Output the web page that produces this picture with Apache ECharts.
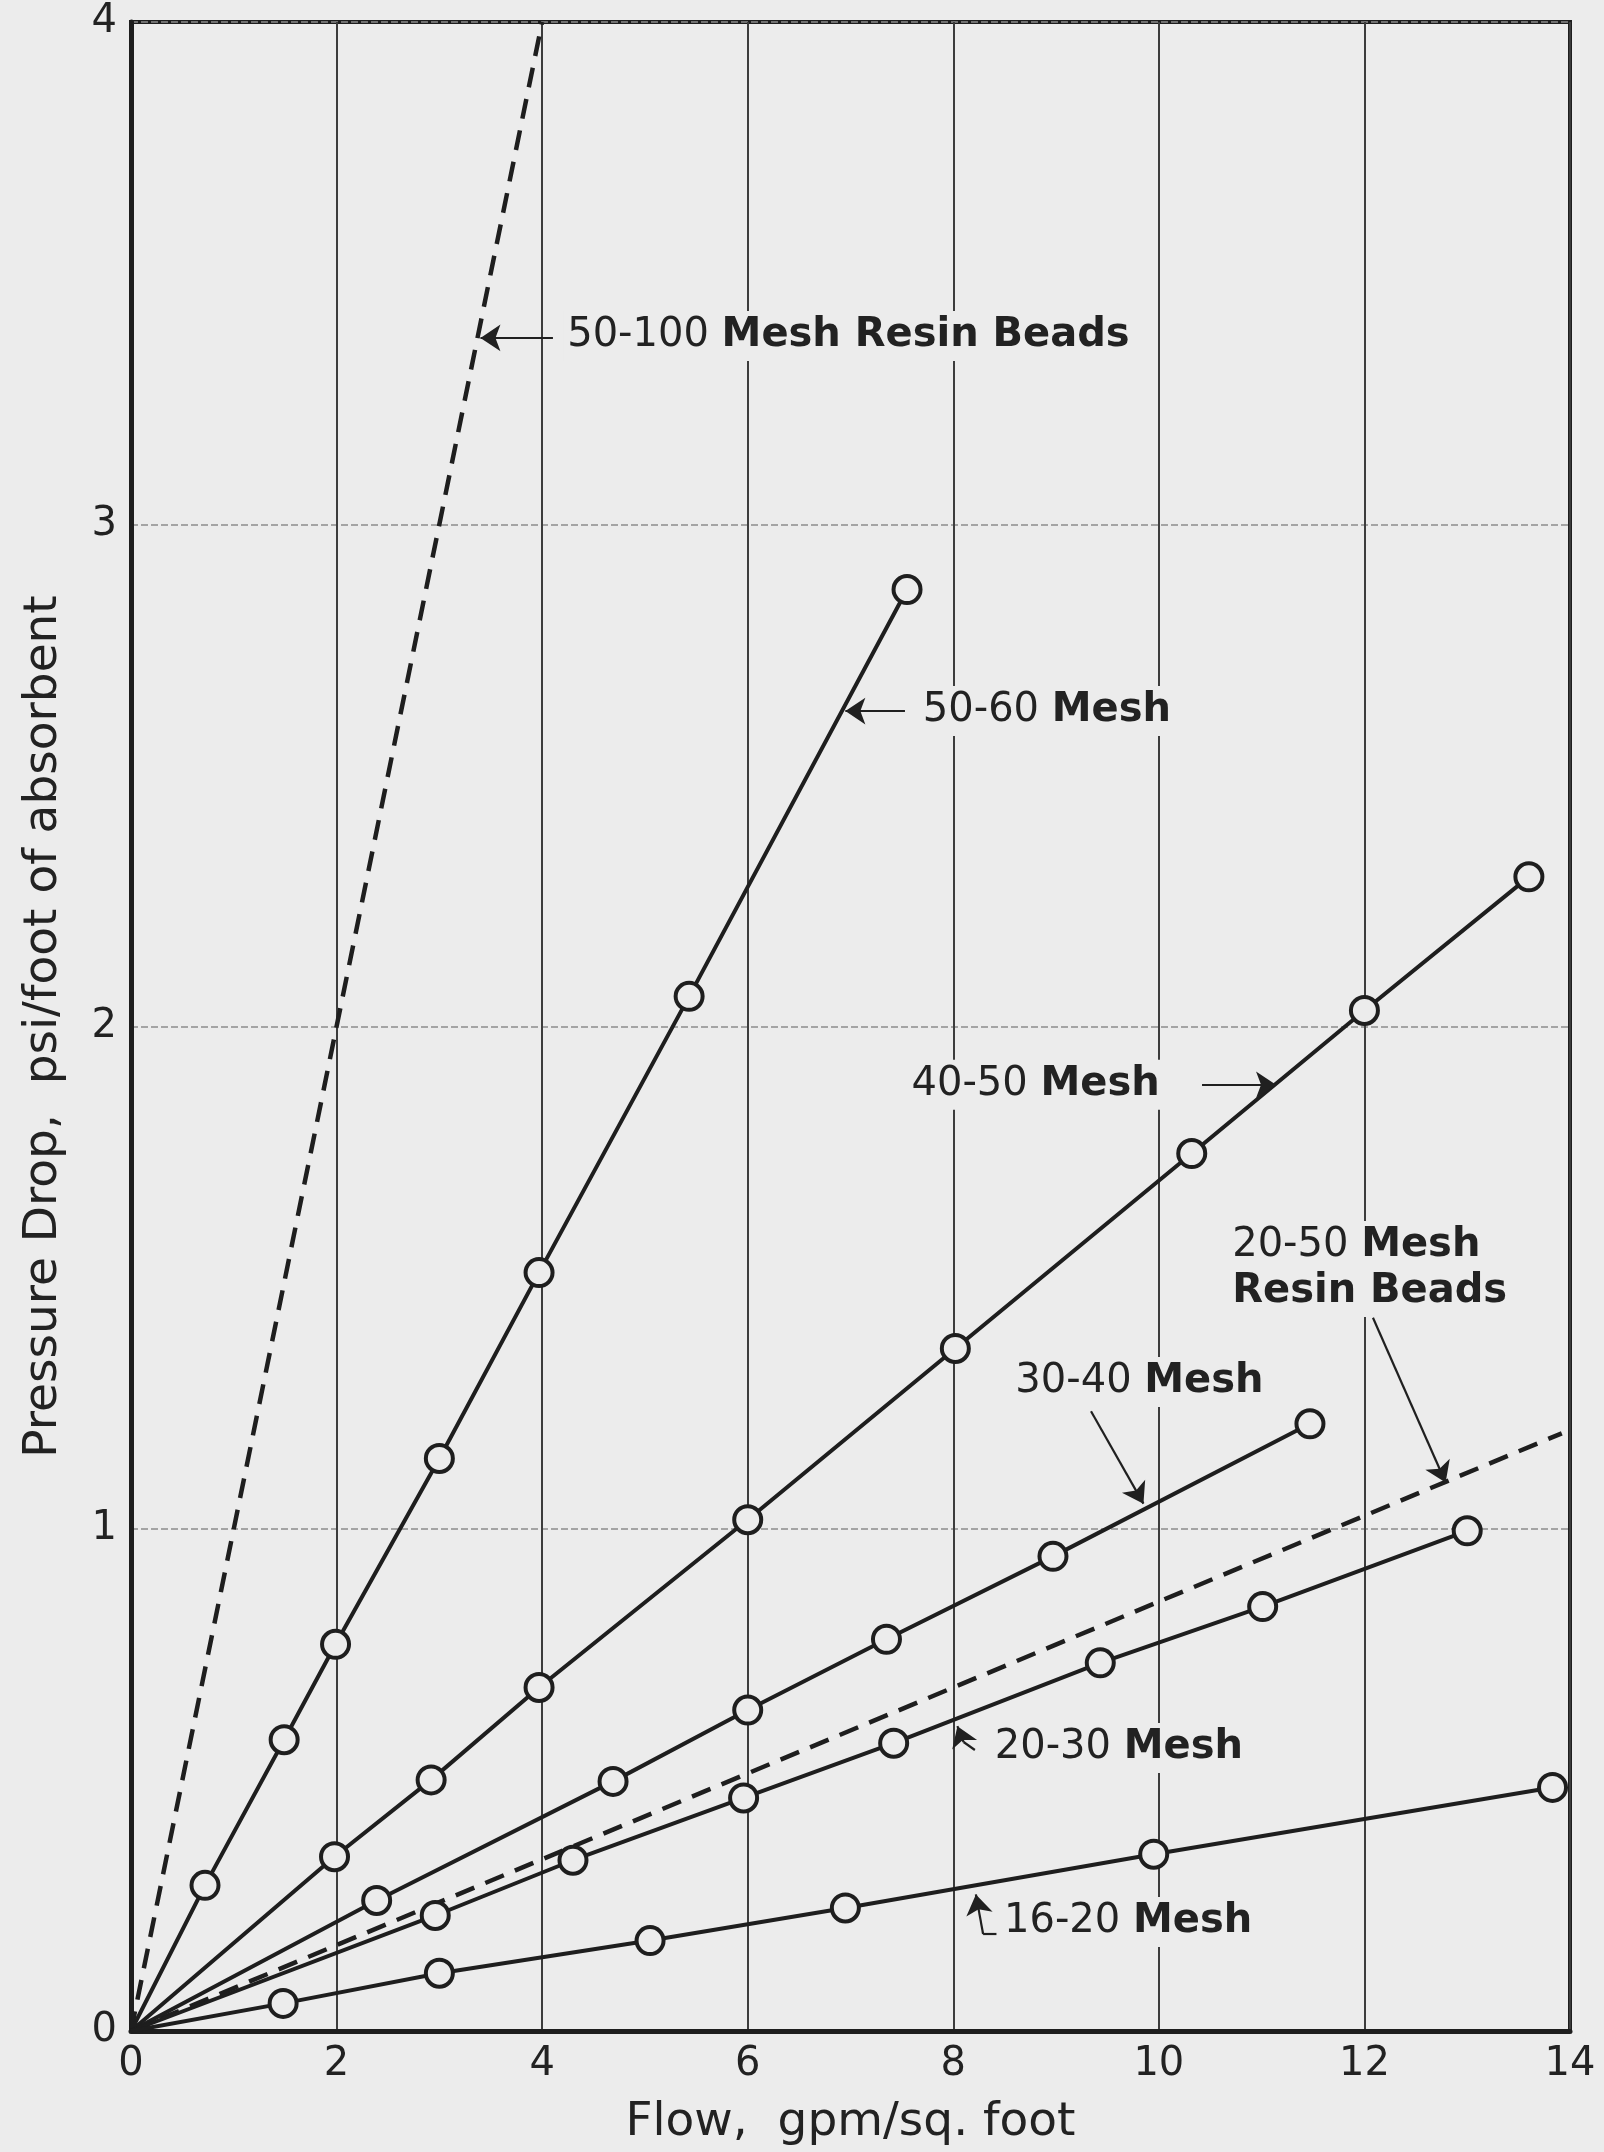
<!DOCTYPE html>
<html><head><meta charset="utf-8">
<script src="https://cdn.jsdelivr.net/npm/echarts@6/dist/echarts.min.js"></script>
<style>html,body{margin:0;padding:0;background:#ececec}#c{width:1604px;height:2152px}</style>
</head><body><div id="c"></div>
<script>
// ---- data ----
const xTicks = [0, 2, 4, 6, 8, 10, 12, 14];
const yTicks = [0, 1, 2, 3, 4];
const xTitle = 'Flow,  gpm/sq. foot';
const yTitle = 'Pressure Drop,  psi/foot of absorbent';

const mesh50_100 = [[0, 0], [4.0, 4.0]];           // dashed, resin beads
const mesh20_50 = [[0, 0], [13.92, 1.19]];          // dashed, resin beads
const mesh50_60 = [[0, 0], [0.72, 0.29], [1.49, 0.58], [1.99, 0.77], [3.0, 1.14], [3.97, 1.51], [5.43, 2.06], [7.55, 2.87]];
const mesh40_50 = [[0, 0], [1.98, 0.347], [2.92, 0.5], [3.97, 0.684], [6.0, 1.018], [8.02, 1.359], [10.32, 1.747], [12.0, 2.032], [13.6, 2.298]];
const mesh30_40 = [[0, 0], [2.39, 0.26], [4.69, 0.497], [6.0, 0.639], [7.35, 0.78], [8.97, 0.945], [11.47, 1.209]];
const mesh20_30 = [[0, 0], [2.96, 0.23], [4.3, 0.34], [5.96, 0.464], [7.42, 0.573], [9.43, 0.733], [11.01, 0.845], [13.0, 0.996]];
const mesh16_20 = [[0, 0], [1.48, 0.055], [3.0, 0.115], [5.05, 0.18], [6.95, 0.245], [9.95, 0.352], [13.83, 0.485]];

// annotation texts and their anchors (data coordinates, text left / middle)
const labelTexts = [
  '{n|50-100 }{b|Mesh Resin Beads}',
  '{n|50-60 }{b|Mesh}',
  '{n|40-50 }{b|Mesh}',
  '{n|20-50 }{b|Mesh}\n{b|Resin Beads}',
  '{n|30-40 }{b|Mesh}',
  '{n|20-30 }{b|Mesh}',
  '{n|16-20 }{b|Mesh}'
];
const labelAnchors = [[4.20, 3.375], [7.66, 2.628], [7.55, 1.884], [10.67, 1.517], [8.56, 1.292], [8.36, 0.5635], [8.45, 0.217]];
const arrowPaths = [
  [[4.105, 3.371], [3.40, 3.371]],
  [[7.53, 2.628], [6.95, 2.628]],
  [[10.42, 1.884], [11.14, 1.884]],
  [[9.34, 1.234], [9.85, 1.05]],
  [[12.083, 1.42], [12.79, 1.092]],
  [[8.21, 0.5595], [8.10, 0.5754], [8.04, 0.607]],
  [[8.42, 0.193], [8.29, 0.193], [8.22, 0.272]]
];

// ---- styles ----
const BG = '#ececec';
const INK = '#1e1e1e';
const TXT = '#222222';
const FONT = 'DejaVu Sans';

function solidSeries(name, arr) {
  return {
    name, type: 'line', z: 3,
    data: arr.map((p, i) => i === 0 ? { value: p, symbol: 'none' } : p),
    symbol: 'circle', symbolSize: 27,
    lineStyle: { color: INK, width: 4 },
    itemStyle: { color: BG, borderColor: INK, borderWidth: 4 },
    emphasis: { disabled: true }, animation: false
  };
}
function dashedSeries(name, arr) {
  return {
    name, type: 'line', z: 2, showSymbol: false, symbol: 'none',
    data: arr,
    lineStyle: { color: INK, width: 4.5, type: [20, 12] },
    emphasis: { disabled: true }, animation: false
  };
}

const arrowSegments = [];
arrowPaths.forEach(path => {
  for (let i = 0; i < path.length - 1; i++) {
    const last = i === path.length - 2;
    arrowSegments.push({
      coords: [path[i], path[i + 1]],
      symbol: last ? ['none', 'arrow'] : ['none', 'none'],
      symbolSize: last ? 20 : 0
    });
  }
});

const chart = echarts.init(document.getElementById('c'), null, { renderer: 'canvas' });
chart.setOption({
  backgroundColor: BG,
  animation: false,
  grid: { left: 131, top: 22, width: 1439, height: 2009, show: true, borderColor: INK, borderWidth: 4, backgroundColor: 'transparent' },
  xAxis: {
    type: 'value', min: xTicks[0], max: xTicks[xTicks.length - 1], interval: 2,
    name: xTitle, nameLocation: 'middle', nameGap: 68,
    nameTextStyle: { fontFamily: FONT, fontSize: 47, color: TXT },
    axisLine: { show: true, lineStyle: { color: INK, width: 5 } },
    axisTick: { show: false },
    axisLabel: { fontFamily: FONT, fontSize: 40, color: TXT, margin: 14 },
    splitLine: { show: true, lineStyle: { color: '#3c3c3c', width: 2 } }
  },
  yAxis: {
    type: 'value', min: yTicks[0], max: yTicks[yTicks.length - 1], interval: 1,
    name: yTitle, nameLocation: 'middle', nameGap: 64,
    nameTextStyle: { fontFamily: FONT, fontSize: 47, color: TXT },
    axisLine: { show: true, lineStyle: { color: INK, width: 5 } },
    axisTick: { show: false },
    axisLabel: { fontFamily: FONT, fontSize: 40, color: TXT, margin: 14 },
    splitLine: { show: true, lineStyle: { color: '#8c8c8c', width: 1.5, type: [7, 3] } }
  },
  series: [
    dashedSeries('50-100 Mesh Resin Beads', mesh50_100),
    dashedSeries('20-50 Mesh Resin Beads', mesh20_50),
    solidSeries('50-60 Mesh', mesh50_60),
    solidSeries('40-50 Mesh', mesh40_50),
    solidSeries('30-40 Mesh', mesh30_40),
    solidSeries('20-30 Mesh', mesh20_30),
    solidSeries('16-20 Mesh', mesh16_20),
    {
      name: 'arrows', type: 'lines', coordinateSystem: 'cartesian2d', z: 6,
      lineStyle: { color: '#202020', width: 2.2, opacity: 1, curveness: 0 },
      data: arrowSegments,
      animation: false, silent: true
    },
    {
      name: 'labels', type: 'scatter', z: 5, symbolSize: 1, silent: true,
      itemStyle: { color: BG, opacity: 1 },
      data: labelAnchors.map((p, i) => ({ value: p, txt: labelTexts[i] })),
      label: {
        show: true, position: 'right', distance: 0, color: TXT, opacity: 1,
        formatter: p => p.data.txt,
        backgroundColor: BG, padding: [2, 4],
        lineHeight: 46,
        rich: {
          n: { fontFamily: FONT, fontSize: 40, color: TXT, lineHeight: 46 },
          b: { fontFamily: FONT, fontSize: 40, fontWeight: 'bold', color: TXT, lineHeight: 46 }
        }
      },
      emphasis: { disabled: true },
      animation: false
    }
  ]
});
</script></body></html>
